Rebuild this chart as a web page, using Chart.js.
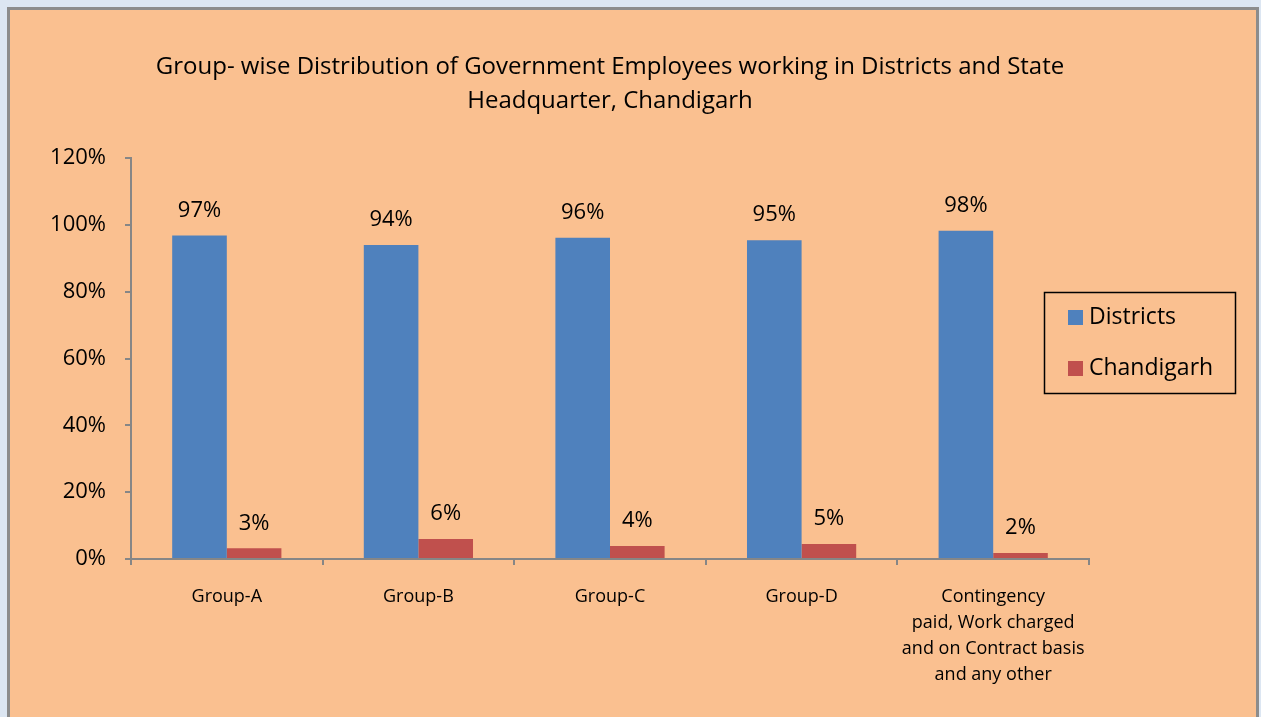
<!DOCTYPE html>
<html>
<head>
<meta charset="utf-8">
<script src="https://cdn.jsdelivr.net/npm/chart.js@4/dist/chart.umd.min.js"></script>
<style>
  html, body { margin: 0; padding: 0; background: #dce6f2; overflow: hidden; }
  #panel { position: absolute; left: 7px; top: 7px; width: 1246px; height: 730px;
           border: 3px solid #8c8c8c; background: #fac090; }
  #wrap { position: absolute; left: 0; top: 0; width: 1261px; height: 717px; }
</style>
</head>
<body>
<div id="panel"></div>
<div id="wrap"><canvas id="main-chart"></canvas></div>
<script>
  // ── Data ─────────────────────────────────────────────────────
  const CATEGORIES = [
    'Group-A', 'Group-B', 'Group-C', 'Group-D',
    ['Contingency', 'paid, Work charged', 'and on Contract basis', 'and any other']
  ];
  const DISTRICTS = [96.8, 94.0, 96.1, 95.4, 98.2];
  const CHANDIGARH = [3.2, 6.0, 3.9, 4.5, 1.8];
  const Y_TICKS = [0, 20, 40, 60, 80, 100, 120];

  const FONT = "'Open Sans', sans-serif";
  const AXIS = '#868686';

  // ── Value labels above bars ──────────────────────────────────
  const valueLabels = {
    id: 'valueLabels',
    afterDatasetsDraw(chart) {
      const ctx = chart.ctx;
      ctx.save();
      ctx.font = `22px ${FONT}`;
      ctx.fillStyle = '#000';
      ctx.textAlign = 'center';
      ctx.textBaseline = 'middle';
      chart.data.datasets.forEach((ds, i) => {
        chart.getDatasetMeta(i).data.forEach((bar, j) => {
          ctx.fillText(Math.round(ds.data[j]) + '%', bar.x, bar.y - 25);
        });
      });
      ctx.restore();
    }
  };

  // ── Boxed legend on the right ────────────────────────────────
  const boxLegend = {
    id: 'boxLegend',
    afterDraw(chart) {
      const ctx = chart.ctx;
      ctx.save();
      ctx.strokeStyle = '#000';
      ctx.lineWidth = 1.5;
      ctx.strokeRect(1044.5, 292.5, 191, 101);
      ctx.font = `23px ${FONT}`;
      ctx.textBaseline = 'middle';
      ctx.textAlign = 'left';
      chart.data.datasets.forEach((ds, i) => {
        const cy = 317 + i * 51;
        ctx.fillStyle = ds.backgroundColor;
        ctx.fillRect(1068, cy - 7, 15, 15);
        ctx.fillStyle = '#000';
        ctx.fillText(ds.label, 1089, cy);
      });
      ctx.restore();
    }
  };

  new Chart(document.getElementById('main-chart').getContext('2d'), {
    type: 'bar',
    data: {
      labels: CATEGORIES,
      datasets: [
        { label: 'Districts', data: DISTRICTS, backgroundColor: '#4f81bd' },
        { label: 'Chandigarh', data: CHANDIGARH, backgroundColor: '#c0504d' }
      ]
    },
    options: {
      responsive: true,
      maintainAspectRatio: false,
      animation: false,
      categoryPercentage: 0.57,
      barPercentage: 1.0,
      layout: { padding: { left: 0, right: 172, top: 0, bottom: 0 } },
      plugins: {
        legend: { display: false },
        tooltip: { enabled: false },
        title: {
          display: true,
          fullSize: false,
          text: ['Group- wise Distribution of Government Employees working in Districts and State',
                 'Headquarter, Chandigarh'],
          color: '#000',
          font: { family: FONT, size: 24, weight: 'normal', lineHeight: '34px' },
          padding: { top: 50, bottom: 40 }
        }
      },
      scales: {
        x: {
          grid: { display: true, drawOnChartArea: false, drawTicks: true, tickLength: 6, color: AXIS, lineWidth: 2 },
          border: { color: AXIS, width: 2 },
          ticks: { color: '#000', padding: 19, maxRotation: 0, autoSkip: false,
                   font: { family: FONT, size: 18, lineHeight: '26px' } },
          afterFit: s => { s.height = 158; }
        },
        y: {
          min: 0, max: 120,
          afterBuildTicks: s => { s.ticks = Y_TICKS.map(v => ({ value: v })); },
          grid: { display: true, drawOnChartArea: false, drawTicks: true, tickLength: 6, color: AXIS, lineWidth: 2 },
          border: { color: AXIS, width: 2 },
          ticks: { color: '#000', padding: 19, callback: v => v + '%',
                   font: { family: FONT, size: 22 } },
          afterFit: s => { s.width = 131; }
        }
      }
    },
    plugins: [valueLabels, boxLegend]
  });
</script>
</body>
</html>
